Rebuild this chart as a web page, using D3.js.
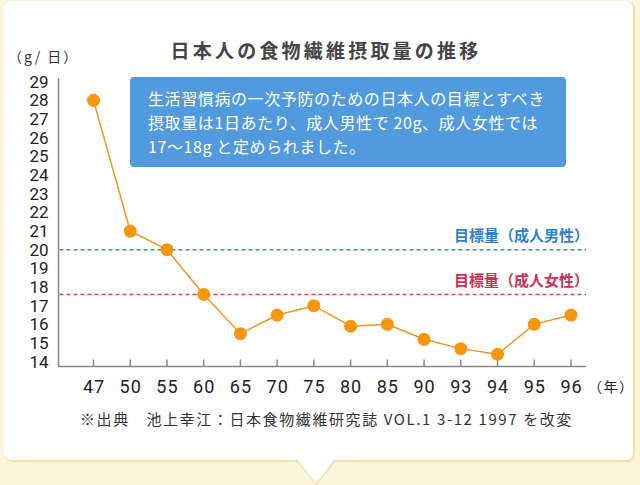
<!DOCTYPE html>
<html><head><meta charset="utf-8">
<script src="https://cdn.jsdelivr.net/npm/d3@7"></script>
<style>
html,body{margin:0;padding:0;background:#fdf4dc;}
svg{display:block;font-family:"Noto Sans CJK JP","Noto Sans",sans-serif;}
</style></head>
<body>
<svg id="c" width="640" height="485"></svg>
<script>
const years = ["47","50","55","60","65","70","75","80","85","90","93","94","95","96"];
const intake = [28.0,21.0,20.0,17.6,15.5,16.5,17.0,15.9,16.0,15.2,14.7,14.4,16.0,16.5];
const yTicks = [14,15,16,17,18,19,20,21,22,23,24,25,26,27,28,29];
const targets = [
  {label:"目標量（成人男性）", value:20.0, color:"#3d8ad6", text:"#2f7fcf"},
  {label:"目標量（成人女性）", value:17.6, color:"#d8466c", text:"#cf2f55"}
];
const title = "日本人の食物繊維摂取量の推移";
const note = ["生活習慣病の一次予防のための日本人の目標とすべき",
              "摂取量は1日あたり、成人男性で 20g、成人女性では",
              "17〜18g と定められました。"];
const source = "※出典　池上幸江：日本食物繊維研究誌 VOL.1 3-12 1997 を改変";

const svg = d3.select("#c");
// background card
svg.append("rect").attr("x",0).attr("y",0).attr("width",640).attr("height",485).attr("fill","#fdf4dc");
svg.append("rect").attr("x",5).attr("y",2).attr("width",630).attr("height",460).attr("rx",7).attr("fill","#f1dfae");
svg.append("path").attr("d","M296,461 L336,461 L316.5,485 Z").attr("fill","#f1dfae");
svg.append("rect").attr("x",4).attr("y",1).attr("width",629).attr("height",459).attr("rx",7).attr("fill","#ffffff");
svg.append("path").attr("d","M297,459 L335,459 L316,483.5 Z").attr("fill","#ffffff");

const x = d3.scalePoint().domain(years).range([93.5,571]);
const y = d3.scaleLinear().domain([14,29]).range([361.7,81.7]);
const axisX = 58.5, axisY = 366.5;

// title
svg.append("text").attr("x",326).attr("y",58).attr("text-anchor","middle")
  .attr("font-size",19).attr("font-weight","bold").attr("letter-spacing",3.2)
  .attr("fill","#444").text(title);
// unit
svg.append("text").attr("x",8).attr("y",62).attr("font-size",14).attr("letter-spacing",2).attr("fill","#333").text("（g/ 日）");

// y axis labels
const ya = d3.axisLeft(y).tickValues(yTicks).tickSize(0).tickPadding(10).tickFormat(d3.format("d"));
const gy = svg.append("g").attr("transform",`translate(${axisX},0)`).call(ya);
gy.select(".domain").remove();
gy.selectAll("text").attr("font-size",17).attr("fill","#222").attr("font-family","Roboto,'Noto Sans',sans-serif");

// x axis
const xa = d3.axisBottom(x).tickSize(0).tickPadding(14);
const gx = svg.append("g").attr("transform",`translate(0,${axisY})`).call(xa);
gx.select(".domain").remove();
gx.selectAll("text").attr("font-size",18).attr("fill","#222").attr("letter-spacing",1).attr("font-family","Roboto,'Noto Sans',sans-serif");
svg.append("g").selectAll("line").data(years).join("line")
  .attr("x1",d=>x(d)).attr("x2",d=>x(d)).attr("y1",axisY-7).attr("y2",axisY)
  .attr("stroke","#888").attr("stroke-width",1.5);
svg.append("text").attr("x",588).attr("y",392).attr("font-size",14).attr("letter-spacing",1.5).attr("fill","#222").text("（年）");

// axis lines
svg.append("path").attr("d",`M${axisX},${y(29.2)} L${axisX},${axisY} L586,${axisY}`)
  .attr("fill","none").attr("stroke","#888").attr("stroke-width",1.5);

// target lines
targets.forEach(t=>{
  svg.append("line").attr("x1",axisX+1).attr("x2",586).attr("y1",y(t.value)).attr("y2",y(t.value))
    .attr("stroke",t.color).attr("stroke-width",1.5).attr("stroke-dasharray","4,3");
  svg.append("text").attr("x",589).attr("y",y(t.value)-9).attr("text-anchor","end")
    .attr("font-size",15).attr("font-weight","bold").attr("fill",t.text).text(t.label);
});

// data line
svg.append("path").datum(intake)
  .attr("d",d3.line().x((d,i)=>x(years[i])).y(d=>y(d)))
  .attr("fill","none").attr("stroke","#f7931e").attr("stroke-width",1.5);
svg.append("g").selectAll("circle").data(intake).join("circle")
  .attr("cx",(d,i)=>x(years[i])).attr("cy",d=>y(d)).attr("r",6.5).attr("fill","#f7960f");

// note box
svg.append("rect").attr("x",130).attr("y",77).attr("width",436).attr("height",90).attr("rx",4).attr("fill","#529ade");
note.forEach((s,i)=>{
  svg.append("text").attr("x",148).attr("y",105+i*24).attr("font-size",16).attr("letter-spacing",0.6)
    .attr("fill","#ffffff").text(s);
});

// source
svg.append("text").attr("x",80).attr("y",425).attr("font-size",15).attr("letter-spacing",1.6)
  .attr("fill","#333").text(source);
</script>
</body></html>
